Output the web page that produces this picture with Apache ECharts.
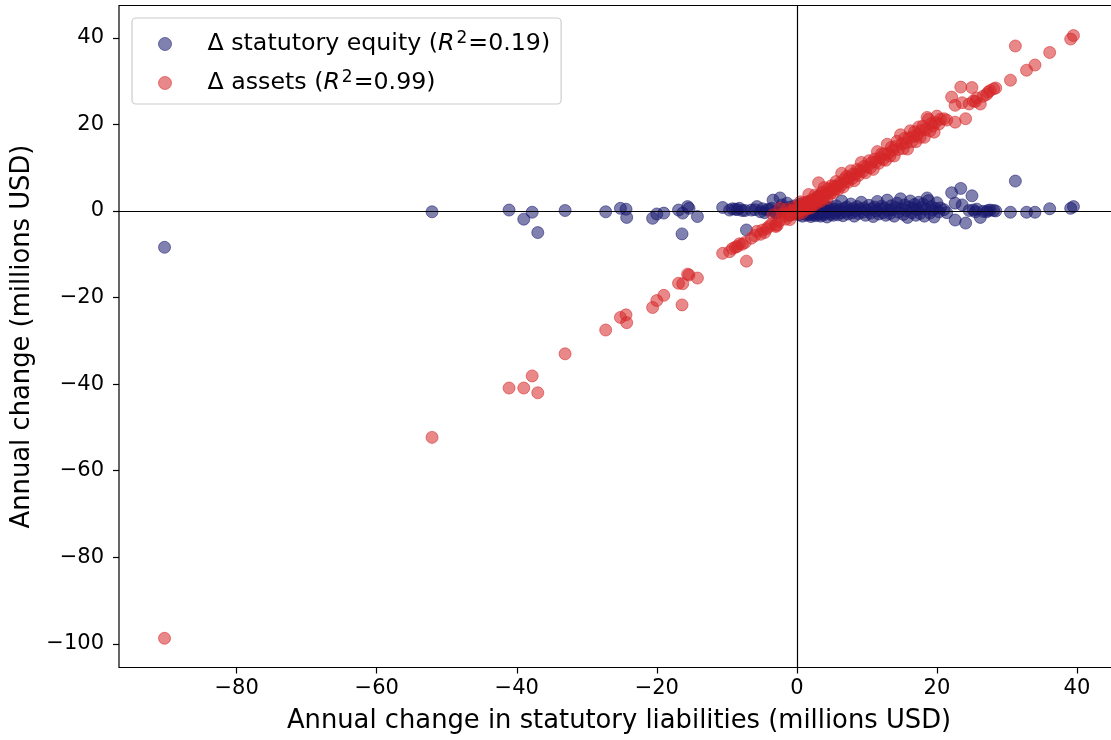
<!DOCTYPE html>
<html>
<head>
<meta charset="utf-8">
<script src="https://cdn.jsdelivr.net/npm/echarts@6/dist/echarts.min.js"></script>
<style>
  html, body { margin: 0; padding: 0; background: #fff; }
  #chart { width: 1111px; height: 740px; }
</style>
</head>
<body>
<div id="chart"></div>
<script>
// Annual change in statutory liabilities (millions USD), one entry per company-year
const LIAB = [
  -90.3, -52.1, -41.1, -39.0, -37.8, -37.0, -33.1, -27.3, -25.2, -24.4, -24.3, -20.6, -20.0, -19.0, -16.9, -16.3, -15.6, -15.4, -16.4, -14.2,
  -10.6, -9.6, -9.2, -8.8, -8.5, -8.2, -7.8, -7.4, -7.2, -6.5, -6.0, -5.7, -5.2, -4.9, -4.6, -4.3, -4.0, -3.6, -3.4, -3.1,
  -3.0, -2.8, -2.5, -2.4, -2.1, -1.8, -1.6, -1.4, -1.2, -1.0, -0.9, -0.6, -0.5, -0.3, -0.2,
  0.1, 0.2, 0.3, 0.4, 0.5, 0.6, 0.7, 0.8, 0.9, 1.0,
  1.1, 1.2, 1.3, 1.4, 1.5, 1.6, 1.7, 1.8, 1.9, 2.0,
  2.1, 2.2, 2.3, 2.4, 2.5, 2.6, 2.7, 2.8, 2.9, 3.0,
  3.1, 3.2, 3.3, 3.4, 3.5, 3.6, 3.7, 3.8, 3.9, 4.0,
  4.2, 4.3, 4.5, 4.6, 4.8, 4.9, 5.0, 5.2, 5.3, 5.5,
  5.6, 5.8, 5.9, 6.1, 6.3, 6.4, 6.6, 6.8, 7.0, 7.1,
  7.3, 7.5, 7.7, 7.9, 8.0, 8.2, 8.4, 8.6, 8.8, 9.0,
  9.2, 9.4, 9.6, 9.8, 10.0, 10.3, 10.5, 10.7, 10.9, 11.1,
  11.3, 11.5, 11.7, 11.9, 12.1, 12.3, 12.5, 12.7, 12.9, 13.1,
  13.3, 13.5, 13.7, 13.9, 14.1, 14.3, 14.5, 14.8, 15.0, 15.2,
  15.4, 15.6, 15.8, 16.0, 16.2, 16.4, 16.6, 16.8, 17.0, 17.2,
  17.4, 17.6, 17.8, 18.0, 18.2, 18.4, 18.6, 18.8, 19.0, 19.2,
  19.4, 19.6, 19.8, 20.0, 20.3, 20.5, 21.0, 21.4,
  22.1, 22.6, 22.6, 23.4, 23.6, 24.1, 24.6, 25.0, 25.2, 25.5,
  25.7, 26.2, 26.6, 27.1, 27.3, 27.6, 28.1, 28.4, 30.5, 31.2,
  32.8, 34.0, 36.1, 39.1, 39.5
];

// Annual change in statutory equity (millions USD)
const EQUITY = [
  -8.4, -0.2, 0.2, -1.9, -0.3, -5.0, 0.1, -0.2, 0.6, 0.4, -1.5, -1.7, -0.7, -0.5, 0.2, -0.5, 1.0, 0.6, -5.3, -1.3,
  0.8, 0.2, 0.5, 0.4, 0.3, 0.6, 0.1, 0.1, -4.4, 0.2, 0.3, 1.0, -0.2, 0.5, -0.4, 0.2, 0.4, 0.6, 2.5, -0.2,
  -0.6, -0.5, 0.2, 3.0, 1.4, 0.6, -0.3, 1.8, 0.2, -1.0, 0.9, -0.2, 0.5, 1.2, -0.5,
  -0.3, 0.8, -0.9, 0.2, 1.6, -0.5, 0.4, -1.2, 0.1, 0.9,
  -0.6, -0.2, 0.3, -1.0, 0.6, -0.4, 2.1, -0.8, 0.0, -1.3,
  0.5, -0.5, -0.9, 0.2, -0.3, 1.1, -1.1, -0.6, 0.3, -0.2,
  3.4, -0.8, 0.4, -1.2, -0.4, 0.7, -0.1, -0.9, 1.5, -0.5,
  0.1, -1.4, 0.6, -0.3, -0.8, 0.9, -0.1, -1.0, 0.4, -0.5,
  1.2, 0.0, -0.9, 0.3, -0.4, 2.3, -1.1, 0.6, -0.2, 0.9,
  -0.7, 0.2, 1.6, -0.4, 0.5, -1.2, 0.1, 1.0, -0.6, 0.4,
  2.0, -0.3, 0.7, -1.0, 0.2, 1.3, -0.5, 0.5, -1.3, 0.9,
  0.0, 2.2, -0.7, 0.4, 1.1, -0.4, 0.7, -1.0, 2.5, 0.2,
  -0.6, 1.2, 0.3, -1.2, 0.8, 1.8, -0.3, 2.8, 0.5, -0.8,
  1.4, 0.1, -1.5, 0.9, 2.3, -0.4, 0.6, 1.5, -1.0, 0.3,
  2.0, -0.6, 0.8, 1.6, -1.2, 0.4, 3.0, 2.4, -0.5, 1.0,
  0.2, -1.4, 0.6, 1.9, -0.2, 0.7, 0.3, -0.4,
  4.2, 1.8, -2.1, 5.2, 1.4, -2.8, 0.1, 3.5, 0.2, -0.2,
  0.4, -1.5, -0.1, -0.2, 0.1, 0.2, 0.1, 0.0, -0.3, 6.9,
  -0.3, -0.3, 0.5, 0.6, 1.0
];

// Annual change in assets (millions USD)
const ASSETS = [
  -98.7, -52.3, -40.9, -40.9, -38.1, -42.0, -33.0, -27.5, -24.6, -24.0, -25.8, -22.3, -20.7, -19.5, -16.7, -16.8, -14.6, -14.8, -21.7, -15.5,
  -9.8, -9.4, -8.7, -8.4, -8.2, -7.6, -7.7, -7.3, -11.6, -6.3, -5.7, -4.7, -5.4, -4.4, -5.0, -4.1, -3.6, -3.0, -0.9, -3.3,
  -3.6, -3.3, -2.3, 0.6, -0.7, -1.2, -1.9, 0.4, -1.0, -2.0, 0.0, -0.8, 0.0, 0.9, -0.7,
  -0.2, 1.0, -0.6, 0.6, 2.1, 0.1, 1.1, -0.4, 1.0, 1.9,
  0.5, 1.0, 1.6, 0.4, 2.1, 1.2, 3.8, 1.0, 1.9, 0.7,
  2.6, 1.7, 1.4, 2.6, 2.2, 3.7, 1.6, 2.2, 3.2, 2.8,
  6.5, 2.4, 3.7, 2.2, 3.1, 4.3, 3.6, 2.9, 5.4, 3.5,
  4.3, 2.9, 5.1, 4.3, 4.0, 5.8, 4.9, 4.2, 5.7, 5.0,
  6.8, 5.8, 5.0, 6.4, 5.9, 8.7, 5.5, 7.4, 6.8, 8.0,
  6.6, 7.7, 9.3, 7.5, 8.5, 7.0, 8.5, 9.6, 8.2, 9.4,
  11.2, 9.1, 10.3, 8.8, 10.2, 11.6, 10.0, 11.2, 9.6, 12.0,
  11.3, 13.7, 11.0, 12.3, 13.2, 11.9, 13.2, 11.7, 15.4, 13.3,
  12.7, 14.7, 14.0, 12.7, 14.9, 16.1, 14.2, 17.6, 15.5, 14.4,
  16.8, 15.7, 14.3, 16.9, 18.5, 16.0, 17.2, 18.3, 16.0, 17.5,
  19.4, 17.0, 18.6, 19.6, 17.0, 18.8, 21.6, 21.2, 18.5, 20.2,
  19.6, 18.2, 20.4, 21.9, 20.1, 21.2, 21.3, 21.0,
  26.3, 24.4, 20.5, 28.6, 25.0, 21.3, 24.7, 28.5, 25.4, 25.3,
  26.1, 24.7, 26.5, 26.9, 27.4, 27.8, 28.2, 28.4, 30.2, 38.1,
  32.5, 33.7, 36.6, 39.7, 40.5
];

const X_TICKS = [-80, -60, -40, -20, 0, 20, 40];
const Y_TICKS = [-100, -80, -60, -40, -20, 0, 20, 40];

const EQ_NAME = 'Δ statutory equity';
const AS_NAME = 'Δ assets';
const EQ_R2 = '0.19';
const AS_R2 = '0.99';

const FONT = 'DejaVu Sans';
const NAVY = '#191970';
const RED = '#d62728';
const ALPHA = 0.55;

const minusFmt = v => (v < 0 ? '\u2212' + Math.abs(v) : String(v));

const pointStyle = c => ({ color: c, opacity: ALPHA, borderColor: c, borderWidth: 1 });

const chart = echarts.init(document.getElementById('chart'), null, { renderer: 'canvas' });

const txt = { fontFamily: FONT, fontSize: 23.7, color: '#000', lineHeight: 28 };

chart.setOption({
  animation: false,
  backgroundColor: '#fff',
  textStyle: { fontFamily: FONT },
  grid: {
    left: 119, top: 5.5, width: 1000, height: 662,
    outerBoundsMode: 'none', containLabel: false,
    show: true, borderColor: '#000', borderWidth: 1.2, backgroundColor: 'transparent'
  },
  xAxis: {
    type: 'value', min: -96.8, max: 46.0,
    axisLine: { show: false, onZero: false },
    splitLine: { show: false },
    axisTick: { show: true, length: 6, lineStyle: { color: '#000', width: 1.2 }, customValues: X_TICKS },
    axisLabel: { customValues: X_TICKS, formatter: minusFmt, fontSize: 21, color: '#000', margin: 11, fontFamily: FONT },
    name: 'Annual change in statutory liabilities (millions USD)',
    nameLocation: 'middle', nameGap: 41,
    nameTextStyle: { fontSize: 25.8, color: '#000', fontFamily: FONT }
  },
  yAxis: {
    type: 'value', min: -105.45, max: 47.45,
    axisLine: { show: false, onZero: false },
    splitLine: { show: false },
    axisTick: { show: true, length: 6, lineStyle: { color: '#000', width: 1.2 }, customValues: Y_TICKS },
    axisLabel: { customValues: Y_TICKS, formatter: minusFmt, fontSize: 21, color: '#000', margin: 15, fontFamily: FONT },
    name: 'Annual change (millions USD)',
    nameLocation: 'middle', nameGap: 80,
    nameTextStyle: { fontSize: 25.8, color: '#000', fontFamily: FONT }
  },
  legend: {
    orient: 'vertical', left: 132, top: 18,
    padding: [12, 11, 7, 26],
    itemGap: 11, itemWidth: 13, itemHeight: 13,
    backgroundColor: 'rgba(255,255,255,0.8)',
    borderColor: '#cccccc', borderWidth: 1.2, borderRadius: 4,
    selectedMode: false,
    data: [
      { name: EQ_NAME, icon: 'circle', itemStyle: pointStyle(NAVY) },
      { name: AS_NAME, icon: 'circle', itemStyle: pointStyle(RED) }
    ],
    formatter: name => {
      const r2 = name === EQ_NAME ? EQ_R2 : AS_R2;
      return '{lead|' + name + ' (}{it|R}{sup|2}{t|=' + r2 + ')}';
    },
    textStyle: Object.assign({}, txt, {
      rich: {
        lead: Object.assign({}, txt, { padding: [0, 0, 0, 31] }),
        t: Object.assign({}, txt),
        it: Object.assign({}, txt, { fontStyle: 'italic' }),
        sup: { fontFamily: FONT, fontSize: 17, color: '#000', lineHeight: 16, verticalAlign: 'top', padding: [0, 1, 0, 2] }
      }
    })
  },
  series: [
    {
      type: 'scatter', name: EQ_NAME, z: 2,
      data: LIAB.map((x, i) => [x, EQUITY[i]]),
      symbol: 'circle', symbolSize: 12,
      itemStyle: pointStyle(NAVY),
      emphasis: { disabled: true }
    },
    {
      type: 'scatter', name: AS_NAME, z: 2,
      data: LIAB.map((x, i) => [x, ASSETS[i]]),
      symbol: 'circle', symbolSize: 12,
      itemStyle: pointStyle(RED),
      emphasis: { disabled: true }
    },
    {
      // zero reference lines through the origin
      type: 'scatter', name: 'origin', z: 5, data: [], silent: true,
      markLine: {
        silent: true, animation: false,
        symbol: ['none', 'none'],
        label: { show: false },
        lineStyle: { color: '#000', width: 1.2, type: 'solid', opacity: 1 },
        emphasis: { disabled: true },
        data: [{ xAxis: 0 }, { yAxis: 0 }]
      }
    }
  ]
});
</script>
</body>
</html>
